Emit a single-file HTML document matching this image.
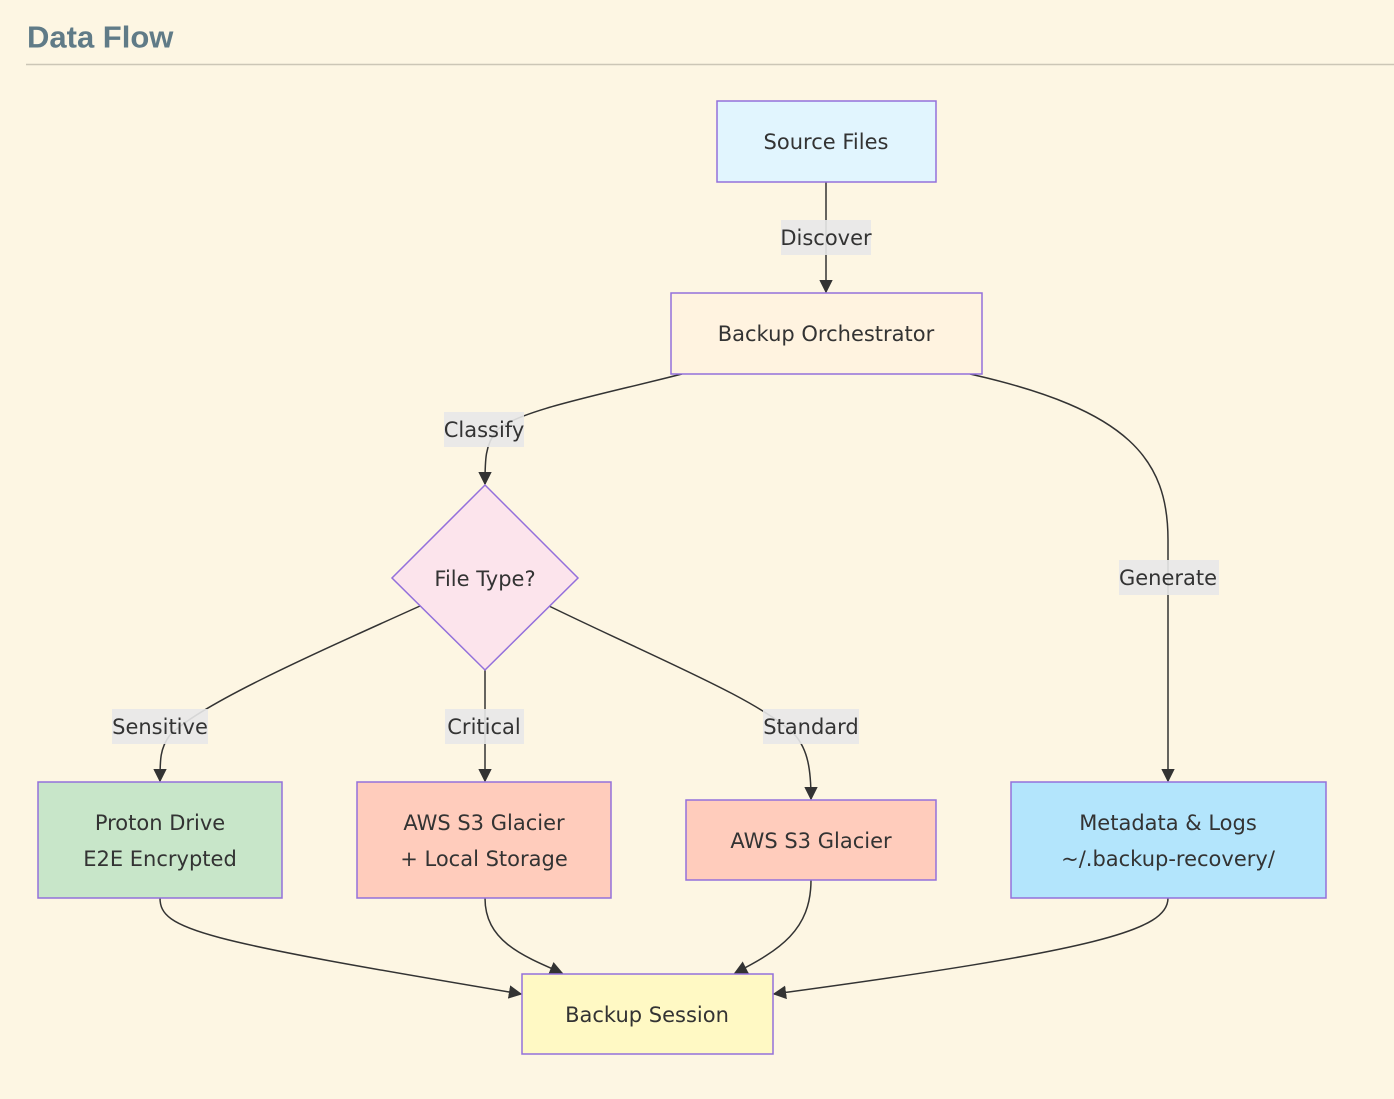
<!DOCTYPE html>
<html><head><meta charset="utf-8"><style>
html,body{margin:0;padding:0;background:#fdf6e3;}
svg{display:block}
text{font-family:"DejaVu Sans","Liberation Sans",sans-serif;fill:#333;font-size:21px;text-anchor:middle;dominant-baseline:central}
.n{stroke:#9370db;stroke-width:1.5}
.e{fill:none;stroke:#333;stroke-width:1.5}
.l{fill:#e8e8e8;opacity:0.9}
</style></head><body>
<svg width="1394" height="1099" viewBox="0 0 1394 1099">
<defs><marker id="a" viewBox="0 0 10 10" refX="9" refY="5" markerWidth="9" markerHeight="9" orient="auto-start-reverse"><path d="M0,0L10,5L0,10z" fill="#333"/></marker></defs>
<text x="27" y="37" style="font-family:'Liberation Sans',sans-serif;font-size:31px;font-weight:bold;fill:#607b87;text-anchor:start">Data Flow</text>
<line x1="26" y1="64.5" x2="1394" y2="64.5" stroke="#ccc6b6" stroke-width="1.5"/>

<path class="e" d="M826,182 L826,292" marker-end="url(#a)"/>
<path class="e" d="M682,374 C600,395 520,410 497,430 C485,445 485,460 485,484" marker-end="url(#a)"/>
<path class="e" d="M970,374 C1130,410 1168,460 1168,540 L1168,781" marker-end="url(#a)"/>
<path class="e" d="M420,606 C300,660 200,705 170,735 C160,748 160,760 160,781" marker-end="url(#a)"/>
<path class="e" d="M485,670 L485,781" marker-end="url(#a)"/>
<path class="e" d="M549,606 C660,660 760,700 795,735 C808,750 811,770 811,799" marker-end="url(#a)"/>
<path class="e" d="M160,898 C160,930 200,940 521,994" marker-end="url(#a)"/>
<path class="e" d="M485,898 C485,940 520,955 562,973" marker-end="url(#a)"/>
<path class="e" d="M811,880 C811,930 780,950 735,973" marker-end="url(#a)"/>
<path class="e" d="M1168,898 C1168,930 1100,950 774,994" marker-end="url(#a)"/>

<rect class="l" x="781" y="220" width="90" height="35"/><text x="826" y="238">Discover</text>
<rect class="l" x="444" y="412" width="80" height="35"/><text x="484" y="430">Classify</text>
<rect class="l" x="1119" y="560" width="100" height="35"/><text x="1168" y="578">Generate</text>
<rect class="l" x="112" y="709" width="96" height="35"/><text x="160" y="727">Sensitive</text>
<rect class="l" x="445" y="709" width="79" height="35"/><text x="484" y="727">Critical</text>
<rect class="l" x="763" y="709" width="96" height="35"/><text x="811" y="727">Standard</text>

<rect class="n" x="717" y="101" width="219" height="81" fill="#e1f5fe"/><text x="826" y="142">Source Files</text>
<rect class="n" x="671" y="293" width="311" height="81" fill="#fff3e0"/><text x="826" y="334">Backup Orchestrator</text>
<path class="n" d="M485,485 L578,578 L485,670 L392,578 Z" fill="#fce4ec"/><text x="485" y="579">File Type?</text>
<rect class="n" x="38" y="782" width="244" height="116" fill="#c8e6c9"/><text x="160" y="823">Proton Drive</text><text x="160" y="859">E2E Encrypted</text>
<rect class="n" x="357" y="782" width="254" height="116" fill="#ffccbc"/><text x="484" y="823">AWS S3 Glacier</text><text x="484" y="859">+ Local Storage</text>
<rect class="n" x="686" y="800" width="250" height="80" fill="#ffccbc"/><text x="811" y="841">AWS S3 Glacier</text>
<rect class="n" x="1011" y="782" width="315" height="116" fill="#b3e5fc"/><text x="1168" y="823">Metadata &amp; Logs</text><text x="1168" y="859">~/.backup-recovery/</text>
<rect class="n" x="522" y="974" width="251" height="80" fill="#fff9c4"/><text x="647" y="1015">Backup Session</text>
</svg>
</body></html>
